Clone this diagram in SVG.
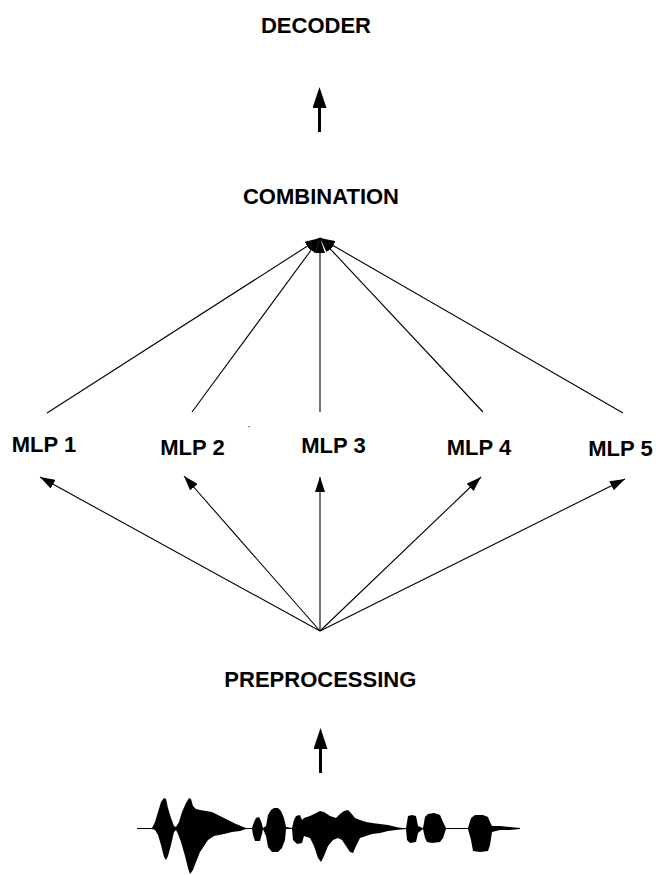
<svg xmlns="http://www.w3.org/2000/svg" width="659" height="875" viewBox="0 0 659 875">
<style>
.lbl{font-family:"Liberation Sans",Arial,sans-serif;font-weight:bold;font-size:22px;fill:#000;text-anchor:middle}
.c{stroke:#000;stroke-width:1.1;fill:none}
.t{stroke:#000;stroke-width:3;fill:none}
</style>
<defs>
<marker id="ah" markerUnits="userSpaceOnUse" markerWidth="16" markerHeight="10" refX="15" refY="5" orient="auto"><path d="M0,0 L15,5 L0,10 z" fill="#000"/></marker>
<marker id="big" markerUnits="userSpaceOnUse" markerWidth="22" markerHeight="14" refX="0" refY="7" orient="auto"><path d="M0,0 L21,7 L0,14 z" fill="#000"/></marker>
</defs>
<rect width="659" height="875" fill="#fff"/>
<g id="decoder"><text class="lbl" x="316" y="33">DECODER</text></g>
<g id="combination"><text class="lbl" x="321" y="204">COMBINATION</text></g>
<g id="mlp1"><text class="lbl" x="44" y="452">MLP 1</text></g>
<g id="mlp2"><text class="lbl" x="192.5" y="455">MLP 2</text></g>
<g id="mlp3"><text class="lbl" x="333.5" y="453">MLP 3</text></g>
<g id="mlp4"><text class="lbl" x="479" y="455">MLP 4</text></g>
<g id="mlp5"><text class="lbl" x="620.5" y="456">MLP 5</text></g>
<g id="preprocessing"><text class="lbl" x="320.3" y="687">PREPROCESSING</text></g>
<g id="waveform">
<line x1="137" y1="828.5" x2="520" y2="828.5" stroke="#000" stroke-width="1"/>
<path fill="#000" d="M152,828 L155,822 158,812 161,802 164,798 166,799 168,808 171,818 174,826 176,827 179,822 182,812 186,803 189,798 191,799 193,806 196,809 200,810 206,811 212,812 218,815 224,818 230,821 236,824 241,826 246,828 252,828 254,822 256,818 259,817 261,821 263,828 266,826 268,815 271,810 274,808 278,808 281,811 284,818 286,827 292,828 294,820 296,816 300,815 302,820 304,818 310,816 316,813 320,811 324,812 330,816 336,818 340,814 344,811 348,810 351,813 355,818 360,820 366,822 372,823 380,824 388,825 396,827 402,828 406,828 408,816 412,815 416,816 418,826 423,828 425,817 428,814 434,813 440,815 443,822 446,828 468,828 471,818 475,815 483,815 488,817 490,822 492,826 500,826 510,827 520,828 L520,829 510,830 500,830 492,832 490,845 488,851 480,852 473,851 471,840 468,829 446,829 443,838 440,842 432,843 427,842 425,838 423,829 418,833 416,842 410,843 407,840 406,829 396,830 388,831 380,833 372,834 366,836 360,838 356,846 353,853 350,852 346,846 342,840 338,838 333,840 328,846 324,856 321,862 318,858 314,846 310,838 304,836 302,843 297,844 293,840 292,829 286,829 285,840 282,848 278,852 272,852 268,847 266,836 263,829 262,834 260,841 255,841 253,835 252,829 246,829 240,831 232,832 224,834 214,836 208,840 204,846 200,852 196,862 193,870 190,874 188,868 185,856 181,842 178,834 176,830 174,832 171,845 168,856 166,860 164,857 161,845 158,835 155,830 152,829 z"/>
</g>
<rect x="248.5" y="426" width="1.2" height="1.2" fill="#444"/>
<g id="connectors">
<line class="t" x1="319.5" y1="132" x2="319.5" y2="108" marker-end="url(#big)"/>
<line class="t" x1="320.5" y1="773" x2="320.5" y2="749" marker-end="url(#big)"/>
<line class="c" x1="47" y1="413" x2="320" y2="238" marker-end="url(#ah)"/>
<line class="c" x1="192" y1="412" x2="320" y2="238" marker-end="url(#ah)"/>
<line class="c" x1="320" y1="412" x2="320" y2="238" marker-end="url(#ah)"/>
<line class="c" x1="483" y1="412" x2="320" y2="238" marker-end="url(#ah)"/>
<line class="c" x1="623" y1="413" x2="320" y2="238" marker-end="url(#ah)"/>
<line class="c" x1="320" y1="631" x2="40" y2="477" marker-end="url(#ah)"/>
<line class="c" x1="320" y1="631" x2="184" y2="476" marker-end="url(#ah)"/>
<line class="c" x1="320" y1="631" x2="320" y2="477" marker-end="url(#ah)"/>
<line class="c" x1="320" y1="631" x2="481" y2="477" marker-end="url(#ah)"/>
<line class="c" x1="320" y1="631" x2="625" y2="479" marker-end="url(#ah)"/>
</g>
</svg>
